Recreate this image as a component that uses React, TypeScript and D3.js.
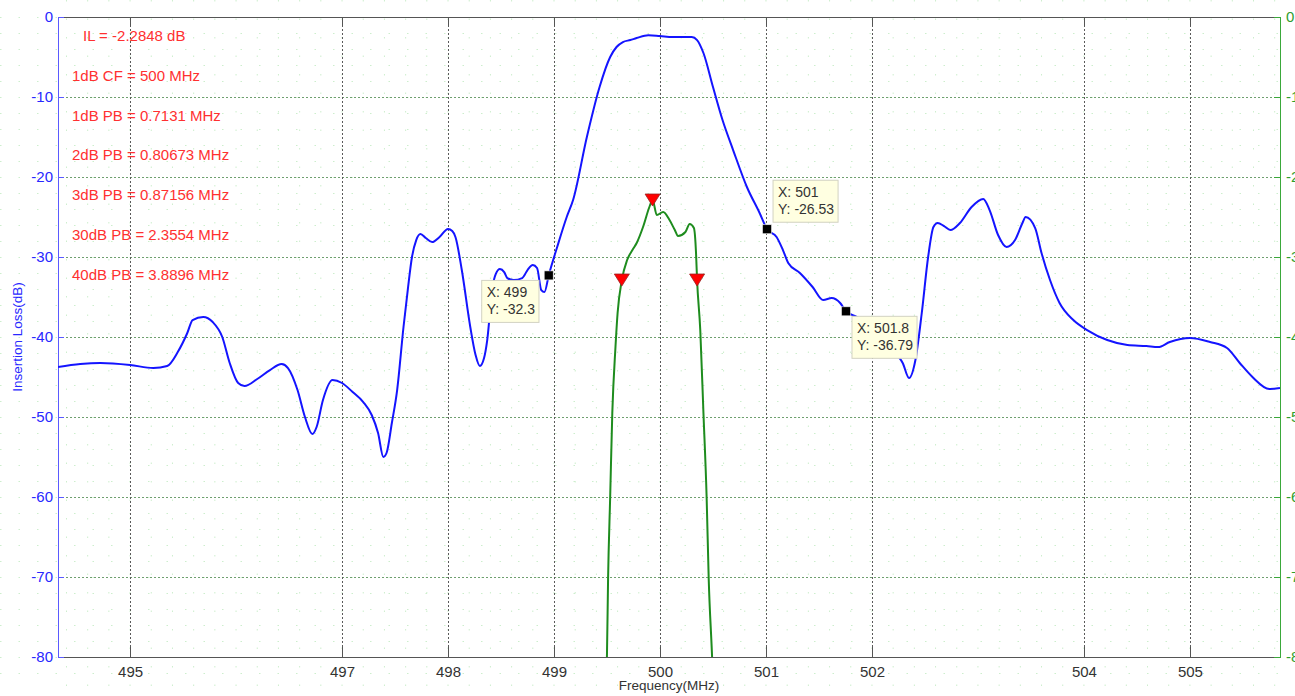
import React from "react";
import * as d3 from "d3";

// blue trace: insertion loss
const freqBlue = [494.32, 494.53, 494.72, 495.0, 495.22, 495.35, 495.45, 495.54, 495.59, 495.69, 495.78, 495.87, 495.94, 496.02, 496.08, 496.2, 496.32, 496.43, 496.49, 496.58, 496.65, 496.72, 496.76, 496.82, 496.91, 497.0, 497.1, 497.2, 497.28, 497.34, 497.39, 497.42, 497.47, 497.52, 497.58, 497.62, 497.66, 497.7, 497.74, 497.79, 497.85, 497.92, 498.0, 498.04, 498.07, 498.13, 498.21, 498.26, 498.3, 498.34, 498.37, 498.42, 498.45, 498.49, 498.53, 498.56, 498.62, 498.7, 498.75, 498.8, 498.84, 498.88, 498.91, 498.95, 499.03, 499.12, 499.18, 499.31, 499.43, 499.53, 499.59, 499.65, 499.72, 499.78, 499.89, 500.0, 500.12, 500.24, 500.3, 500.35, 500.41, 500.5, 500.59, 500.69, 500.82, 500.94, 501.01, 501.1, 501.16, 501.21, 501.32, 501.44, 501.54, 501.62, 501.7, 501.755, 501.86, 501.98, 502.12, 502.24, 502.29, 502.35, 502.41, 502.47, 502.53, 502.58, 502.62, 502.68, 502.74, 502.83, 502.94, 503.05, 503.11, 503.19, 503.27, 503.35, 503.42, 503.45, 503.54, 503.6, 503.68, 503.77, 503.9, 504.03, 504.22, 504.41, 504.59, 504.7, 504.81, 505.0, 505.19, 505.35, 505.47, 505.59, 505.75, 505.85];
const lossBlue = [-43.75, -43.38, -43.25, -43.5, -43.88, -43.63, -41.88, -39.5, -37.88, -37.5, -38.13, -40, -43.25, -45.75, -46.13, -45.25, -44.13, -43.38, -43.88, -46.63, -50, -52.13, -51.25, -47.88, -45.38, -45.75, -46.88, -48.13, -49.75, -52, -55, -54.5, -50.75, -46.63, -38.75, -34.13, -30, -27.88, -27.13, -27.63, -28.13, -27.5, -26.5, -26.75, -27.5, -31.63, -38.75, -42.25, -43.63, -42.63, -40.38, -33.75, -32.13, -31.5, -31.88, -32.63, -32.88, -32.63, -31.63, -31, -31.38, -34.13, -34.38, -32.3, -28.75, -25, -22.88, -15, -8.75, -5, -3.75, -3.13, -2.88, -2.63, -2.28, -2.38, -2.5, -2.5, -2.5, -2.88, -4.5, -8.75, -12.88, -16.63, -21.25, -24.5, -26.53, -27.5, -29.13, -30.75, -32, -33.75, -35.38, -35.13, -35.75, -36.79, -37.5, -38.63, -40.38, -42.25, -43.25, -45.13, -42.88, -37, -30, -26.25, -25.75, -26.13, -26.63, -25.75, -23.75, -22.75, -24.13, -27.25, -28.75, -27.88, -25.75, -25, -26.38, -29.5, -32.88, -35.75, -37.88, -39.13, -40.38, -41, -41.13, -41.25, -40.63, -40.13, -40.63, -41.38, -43.25, -45, -46.5, -46.38];

// green trace
const freqGreen = [499.49, 499.5, 499.51, 499.53, 499.55, 499.58, 499.6, 499.64, 499.69, 499.74, 499.78, 499.84, 499.9, 499.93, 499.97, 500.03, 500.09, 500.14, 500.17, 500.24, 500.28, 500.32, 500.34, 500.35, 500.38, 500.41, 500.44, 500.46, 500.49, 500.5];
const lossGreen = [-82.88, -79.5, -70.38, -60, -49.5, -41.25, -37, -32.88, -30.38, -29.13, -28.25, -26.25, -23.75, -22.88, -24.75, -24.38, -25.38, -26.63, -27.38, -26.88, -25.88, -26.38, -29.5, -32.88, -39.13, -49.5, -60, -70.38, -79.5, -82.88];

const triFreq = [499.64, 499.93, 500.35];
const triLoss = [-32.88, -22.88, -32.88];

const tipFreq = [498.95, 501.01, 501.755];
const tipLoss = [-32.3, -26.53, -36.79];
const tipX = ["X: 499", "X: 501", "X: 501.8"];
const tipY = ["Y: -32.3", "Y: -26.53", "Y: -36.79"];

const xTicks = [495, 497, 498, 499, 500, 501, 502, 504, 505];
const yTicks = [0, -10, -20, -30, -40, -50, -60, -70, -80];
const rightLabels = ["0", "-10", "-20", "-30", "-40", "-50", "-60", "-70", "-80"];

const notes = [
  "IL = -2.2848 dB",
  "1dB CF = 500 MHz",
  "1dB PB = 0.7131 MHz",
  "2dB PB = 0.80673 MHz",
  "3dB PB = 0.87156 MHz",
  "30dB PB = 2.3554 MHz",
  "40dB PB = 3.8896 MHz",
];

const W = 1295;
const H = 696;
const M = { left: 58, right: 15, top: 17, bottom: 39 };
const tipOffset = [
  { dx: -67, dy: 5 },
  { dx: 6, dy: -49 },
  { dx: 6, dy: 5 },
];
const FONT = "'Liberation Sans', Arial, sans-serif";

const FilterChart = () => {
  const svgRef = React.useRef(null);

  React.useEffect(() => {
    const x0 = M.left;
    const x1 = W - M.right;
    const y0 = M.top;
    const y1 = H - M.bottom;
    const xScale = d3.scaleLinear().domain([494.32, 505.85]).range([x0, x1]);
    const yScale = d3.scaleLinear().domain([-80, 0]).range([y1, y0]);

    const svg = d3.select(svgRef.current);
    svg.selectAll("*").remove();

    svg.append("rect").attr("width", W).attr("height", H).attr("fill", "#fff");

    svg.append("clipPath").attr("id", "plotclip")
      .append("rect").attr("x", x0).attr("y", y0).attr("width", x1 - x0).attr("height", y1 - y0);

    // faint minor grid dots
    const minor = svg.append("g").attr("stroke", "#cdeecd").attr("stroke-dasharray", "1.5,17");
    d3.range(494.4, 505.85, 0.2).forEach((f) => {
      minor.append("line").attr("x1", xScale(f)).attr("x2", xScale(f)).attr("y1", 0).attr("y2", H);
    });
    d3.range(-82, 2, 2).forEach((v) => {
      minor.append("line").attr("x1", 0).attr("x2", W).attr("y1", yScale(v) + 0.5).attr("y2", yScale(v) + 0.5);
    });

    // grid
    const grid = svg.append("g");
    yTicks.slice(1, -1).forEach((v) => {
      grid.append("line")
        .attr("x1", x0).attr("x2", x1)
        .attr("y1", Math.round(yScale(v)) + 0.5).attr("y2", Math.round(yScale(v)) + 0.5)
        .attr("stroke", "#6f9f6f").attr("stroke-dasharray", "2,2");
    });
    xTicks.forEach((v) => {
      grid.append("line")
        .attr("x1", Math.round(xScale(v)) + 0.5).attr("x2", Math.round(xScale(v)) + 0.5)
        .attr("y1", y0).attr("y2", y1)
        .attr("stroke", "#5a5a5a").attr("stroke-dasharray", "2,2");
    });

    // bottom axis
    const xAxis = d3.axisBottom(xScale).tickValues(xTicks).tickSize(0).tickPadding(9)
      .tickFormat((v) => `${v}`);
    const xg = svg.append("g").attr("transform", `translate(0,${y1})`).call(xAxis);
    xg.select(".domain").remove();
    xg.selectAll("text").attr("fill", "#333").attr("font-size", 15).attr("font-family", FONT);
    xTicks.forEach((v) => {
      const px = Math.round(xScale(v)) + 0.5;
      svg.append("line").attr("x1", px).attr("x2", px).attr("y1", y1).attr("y2", y1 - 10).attr("stroke", "#555");
      svg.append("line").attr("x1", px).attr("x2", px).attr("y1", y0).attr("y2", y0 + 9).attr("stroke", "#555");
    });
    svg.append("line").attr("x1", x0).attr("x2", x1).attr("y1", y1 + 0.5).attr("y2", y1 + 0.5).attr("stroke", "#555");
    svg.append("line").attr("x1", x0).attr("x2", x1).attr("y1", y0 + 0.5).attr("y2", y0 + 0.5).attr("stroke", "#555");

    // left axis
    const yAxis = d3.axisLeft(yScale).tickValues(yTicks).tickSize(0).tickPadding(5)
      .tickFormat((v) => `${v}`);
    const yg = svg.append("g").attr("transform", `translate(${x0},0)`).call(yAxis);
    yg.select(".domain").remove();
    yg.selectAll("text").attr("fill", "#2828ff").attr("font-size", 15).attr("font-family", FONT);
    yTicks.forEach((v) => {
      const py = Math.round(yScale(v)) + 0.5;
      svg.append("line").attr("x1", x0).attr("x2", x0 + 6).attr("y1", py).attr("y2", py).attr("stroke", "#5a5aff");
      svg.append("line").attr("x1", x1).attr("x2", x1 - 6).attr("y1", py).attr("y2", py).attr("stroke", "#3aa83a");
    });
    svg.append("line").attr("x1", x0 + 0.5).attr("x2", x0 + 0.5).attr("y1", y0).attr("y2", y1 + 1).attr("stroke", "#5a5aff");

    // right axis
    svg.append("line").attr("x1", x1 + 0.5).attr("x2", x1 + 0.5).attr("y1", y0).attr("y2", y1 + 1).attr("stroke", "#3aa83a");
    const rg = svg.append("g");
    yTicks.forEach((v, i) => {
      rg.append("text").attr("x", x1 + 6).attr("y", yScale(v)).attr("dy", "0.35em")
        .attr("fill", "#2e9e2e").attr("font-size", 15).attr("font-family", FONT)
        .text(rightLabels[i]);
    });

    // axis titles
    svg.append("text").attr("x", (x0 + x1) / 2).attr("y", 690).attr("text-anchor", "middle")
      .attr("fill", "#333").attr("font-size", 13.5).attr("font-family", FONT).text("Frequency(MHz)");
    svg.append("text").attr("transform", `translate(22,${(y0 + y1) / 2}) rotate(-90)`)
      .attr("text-anchor", "middle").attr("fill", "#2828ff").attr("font-size", 13.5).attr("font-family", FONT)
      .text("Insertion Loss(dB)");

    // notes
    notes.forEach((t, i) => {
      svg.append("text").attr("x", i === 0 ? 83 : 72).attr("y", 41 + i * 39.8)
        .attr("fill", "#ff3030").attr("font-size", 15).attr("font-family", FONT).text(t);
    });

    // traces
    const line = d3.line().curve(d3.curveMonotoneX)
      .x((d) => xScale(d[0])).y((d) => yScale(d[1]));
    const plot = svg.append("g").attr("clip-path", "url(#plotclip)");
    plot.append("path").attr("d", line(freqBlue.map((f, i) => [f, lossBlue[i]])))
      .attr("fill", "none").attr("stroke", "#1414ff").attr("stroke-width", 2);
    plot.append("path").attr("d", line(freqGreen.map((f, i) => [f, lossGreen[i]])))
      .attr("fill", "none").attr("stroke", "#1e8c1e").attr("stroke-width", 2);

    // red triangle markers
    triFreq.forEach((f, i) => {
      const cx = xScale(f);
      const cy = yScale(triLoss[i]);
      svg.append("path")
        .attr("d", `M${cx - 7.5},${cy - 6}L${cx + 7.5},${cy - 6}L${cx},${cy + 6}Z`)
        .attr("fill", "#ff0000").attr("stroke", "#9a2020").attr("stroke-width", 0.8);
    });

    // data tips
    tipFreq.forEach((f, i) => {
      const px = xScale(f);
      const py = yScale(tipLoss[i]);
      const g = svg.append("g");
      const bx = px + tipOffset[i].dx;
      const by = py + tipOffset[i].dy;
      const box = g.append("rect").attr("x", bx).attr("y", by).attr("height", 42)
        .attr("fill", "#ffffe1").attr("stroke", "#d2d2c2");
      const t1 = g.append("text").attr("x", bx + 5).attr("y", by + 17).attr("fill", "#333")
        .attr("font-size", 14).attr("font-family", FONT).text(tipX[i]);
      const t2 = g.append("text").attr("x", bx + 5).attr("y", by + 34).attr("fill", "#333")
        .attr("font-size", 14).attr("font-family", FONT).text(tipY[i]);
      const w = Math.max(t1.node().getComputedTextLength(), t2.node().getComputedTextLength());
      box.attr("width", w + 9);
      svg.append("rect").attr("x", px - 4.5).attr("y", py - 4.5).attr("width", 9).attr("height", 9)
        .attr("fill", "#000").attr("stroke", "#eee").attr("stroke-width", 0.6);
    });
  }, []);

  return (
    <svg ref={svgRef} width={W} height={H}
      style={{ position: "absolute", left: 0, top: 0, display: "block", overflow: "hidden" }} />
  );
};

export default function App() {
  return <FilterChart />;
}
